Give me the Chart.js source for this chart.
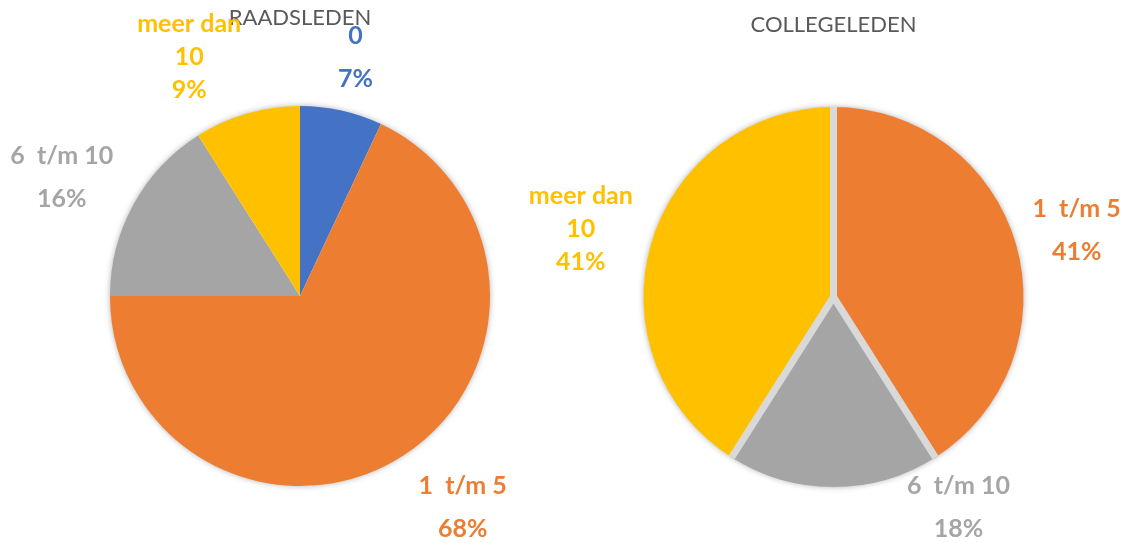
<!DOCTYPE html>
<html>
<head>
<meta charset="utf-8">
<script src="https://cdn.jsdelivr.net/npm/chart.js@4.4.0/dist/chart.umd.min.js"></script>
<style>
  html, body { margin: 0; padding: 0; background: #fff; overflow: hidden; }
  #wrap { position: relative; width: 1131px; height: 543px; }
  #wrap canvas { position: absolute; left: 0; top: 0; }
</style>
</head>
<body>
<div id="wrap">
  <canvas id="raadChart" width="1131" height="543"></canvas>
  <canvas id="collegeChart" width="1131" height="543"></canvas>
</div>
<script>
const categories = ['0', '1  t/m 5', '6  t/m 10', 'meer dan\n10'];
const raadsledenValues = [7, 68, 16, 9];
const collegeledenValues = [0, 41, 18, 41];

const sliceColors = ['#4472C4', '#ED7D31', '#A5A5A5', '#FFC000'];
const fontFamily = 'Lato, "Liberation Sans", sans-serif';

// white disc with a soft shadow behind the pie
const pieShadow = {
  id: 'pieShadow',
  beforeDatasetsDraw(chart) {
    const arc = chart.getDatasetMeta(0).data[0];
    if (!arc) return;
    const p = arc.getProps(['x', 'y', 'outerRadius'], true);
    const c = chart.ctx;
    c.save();
    c.shadowColor = 'rgba(0,0,0,0.35)';
    c.shadowBlur = 6;
    c.fillStyle = '#fff';
    c.beginPath();
    c.arc(p.x, p.y, p.outerRadius - 0.5, 0, Math.PI * 2);
    c.fill();
    c.restore();
  }
};

// light grey separators along the slice edges only (not round the outside)
const sliceGaps = {
  id: 'sliceGaps',
  afterDatasetsDraw(chart, args, opts) {
    if (!opts.width) return;
    const c = chart.ctx;
    c.save();
    c.strokeStyle = opts.color;
    c.lineWidth = opts.width;
    chart.getDatasetMeta(0).data.forEach(arc => {
      const p = arc.getProps(['x', 'y', 'startAngle', 'outerRadius'], true);
      c.beginPath();
      c.moveTo(p.x, p.y);
      c.lineTo(p.x + Math.cos(p.startAngle) * p.outerRadius, p.y + Math.sin(p.startAngle) * p.outerRadius);
      c.stroke();
    });
    c.restore();
  }
};

// category + percentage outside each slice
const outsideLabels = {
  id: 'outsideLabels',
  afterDraw(chart, args, opts) {
    const c = chart.ctx;
    const ds = chart.data.datasets[0];
    const total = ds.data.reduce((a, b) => a + b, 0);
    const nudge = opts.nudge || [];
    c.save();
    c.font = 'bold 25px ' + fontFamily;
    c.textAlign = 'center';
    c.textBaseline = 'middle';
    chart.getDatasetMeta(0).data.forEach((arc, i) => {
      const v = ds.data[i];
      if (!v) return;
      const p = arc.getProps(['x', 'y', 'startAngle', 'endAngle', 'outerRadius'], true);
      const lines = chart.data.labels[i].split('\n');
      lines.push(Math.round(v / total * 100) + '%');
      const step = lines.length === 2 ? 43 : 33;
      const w = Math.max(...lines.map(l => c.measureText(l).width));
      const h = step * (lines.length - 1) + 18;
      const mid = (p.startAngle + p.endAngle) / 2;
      const r = p.outerRadius + 19;
      const n = nudge[i] || [0, 0];
      const cx = p.x + Math.cos(mid) * (r + w / 2) + n[0];
      const cy = p.y + Math.sin(mid) * (r + h / 2) + n[1];
      c.fillStyle = sliceColors[i];
      lines.forEach((l, k) => {
        c.fillText(l, cx, cy - h / 2 + 9 + k * step);
      });
    });
    c.restore();
  }
};

function makePie(id, values, title, padding, titlePad, gapWidth, nudge) {
  const ctx = document.getElementById(id).getContext('2d');
  return new Chart(ctx, {
    type: 'pie',
    data: {
      labels: categories,
      datasets: [{
        data: values,
        backgroundColor: sliceColors,
        borderWidth: 0
      }]
    },
    options: {
      responsive: false,
      animation: false,
      layout: { padding: padding },
      plugins: {
        legend: { display: false },
        tooltip: { enabled: false },
        title: {
          display: true,
          text: title,
          color: '#595959',
          font: { family: fontFamily, size: 22, weight: 'normal', lineHeight: 1.2 },
          padding: titlePad
        },
        sliceGaps: { width: gapWidth, color: '#D9D9D9' },
        outsideLabels: { nudge: nudge }
      }
    },
    plugins: [pieShadow, sliceGaps, outsideLabels]
  });
}

document.addEventListener('DOMContentLoaded', function() {
  makePie('raadChart', raadsledenValues, 'RAADSLEDEN',
    { left: 110, right: 641, top: 0, bottom: 57 },
    { top: 4.8, bottom: 74.8 }, 0,
    [[6, -5], [27, 9], [-10, -3], [-38, 2]]);
  makePie('collegeChart', collegeledenValues, 'COLLEGELEDEN',
    { left: 643, right: 107, top: 0, bottom: 56 },
    { top: 11.8, bottom: 68.8 }, 7,
    [[0, 0], [0, 0], [125, -29], [-2, 2]]);
});
</script>
</body>
</html>
